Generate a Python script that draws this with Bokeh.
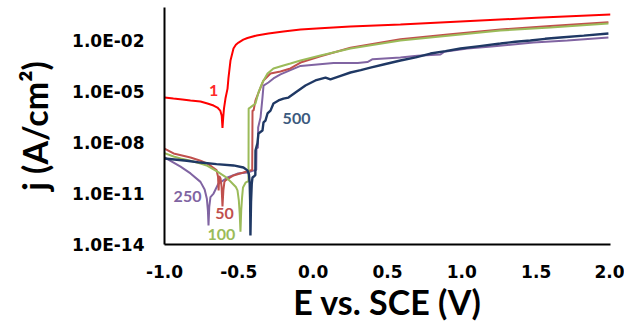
import numpy as np
from bokeh.plotting import figure
from bokeh.models import Range1d, FixedTicker, CustomJSTickFormatter, NumeralTickFormatter, Label
from bokeh.embed import file_html
from bokeh.resources import INLINE

# Potential E (V vs. SCE) and log10 of current density j (A/cm2)
e_1 = [-1.000, -0.940, -0.880, -0.825, -0.758, -0.711, -0.670, -0.644, -0.625, -0.615, -0.610, -0.605,
       -0.600, -0.590, -0.576, -0.570, -0.556, -0.536, -0.520, -0.502, -0.470, -0.442, -0.380, -0.301,
       -0.200, -0.085, 0.050, 0.250, 0.587, 0.990, 1.500, 2.000]
logj_1 = [-5.32, -5.38, -5.43, -5.49, -5.55, -5.67, -5.79, -5.91, -6.09, -6.40, -7.12, -6.50,
          -5.97, -5.38, -4.79, -4.19, -3.13, -2.42, -2.20, -2.07, -1.90, -1.80, -1.65, -1.54,
          -1.42, -1.30, -1.22, -1.12, -1.00, -0.82, -0.61, -0.41]

e_50 = [-1.000, -0.939, -0.825, -0.758, -0.711, -0.650, -0.640, -0.636, -0.632, -0.623, -0.616, -0.610,
        -0.604, -0.597, -0.590, -0.536, -0.469, -0.435, -0.410, -0.408, -0.401, -0.388, -0.354, -0.334,
        -0.287, -0.220, -0.153, -0.085, 0.049, 0.251, 0.587, 0.923, 1.260, 1.596, 1.986]
logj_50 = [-8.33, -8.62, -8.86, -9.05, -9.22, -9.60, -10.00, -10.81, -9.95, -10.10, -10.60, -11.75,
           -10.80, -10.30, -10.22, -9.92, -9.75, -9.65, -9.60, -6.09, -6.09, -5.49, -4.73, -4.31,
           -3.90, -3.78, -3.60, -3.25, -2.88, -2.38, -1.88, -1.58, -1.30, -1.10, -0.87]

e_100 = [-1.000, -0.939, -0.892, -0.825, -0.758, -0.711, -0.644, -0.590, -0.556, -0.520, -0.509, -0.500,
         -0.494, -0.489, -0.484, -0.478, -0.472, -0.455, -0.442, -0.435, -0.434, -0.422, -0.388, -0.368,
         -0.341, -0.307, -0.267, -0.200, -0.153, -0.085, 0.049, 0.251, 0.587, 0.923, 1.260, 1.596, 1.986]
logj_100 = [-8.60, -8.80, -8.92, -9.05, -9.22, -9.35, -9.70, -10.00, -10.28, -10.60, -10.80, -11.40,
            -12.20, -13.24, -12.00, -11.20, -10.63, -10.35, -10.28, -10.25, -5.97, -5.90, -5.67, -5.02,
            -4.43, -3.90, -3.60, -3.43, -3.31, -3.13, -2.84, -2.42, -1.95, -1.65, -1.36, -1.18, -0.95]

e_250 = [-1.000, -0.939, -0.892, -0.825, -0.758, -0.730, -0.715, -0.708, -0.704, -0.699, -0.691, -0.670,
         -0.637, -0.576, -0.509, -0.442, -0.408, -0.383, -0.381, -0.372, -0.370, -0.354, -0.341, -0.334,
         -0.301, -0.267, -0.220, -0.153, -0.085, 0.137, 0.300, 0.365, 0.400, 0.587, 0.700, 0.856, 0.880,
         1.038, 1.200, 1.481, 1.710, 1.986]
logj_250 = [-8.86, -9.16, -9.40, -9.80, -10.30, -10.75, -11.30, -12.00, -12.88, -11.80, -11.20, -10.99,
            -10.40, -10.04, -9.81, -9.75, -9.65, -9.60, -8.30, -8.30, -7.09, -6.50, -5.32, -4.61,
            -4.43, -4.19, -3.95, -3.70, -3.45, -3.28, -3.28, -3.22, -3.05, -2.95, -2.85, -2.78, -2.62,
            -2.42, -2.30, -2.07, -1.95, -1.77]

e_500 = [-1.000, -0.850, -0.758, -0.650, -0.536, -0.469, -0.442, -0.432, -0.427, -0.424, -0.422, -0.418,
         -0.413, -0.408, -0.395, -0.389, -0.388, -0.375, -0.368, -0.341, -0.334, -0.321, -0.307, -0.287,
         -0.267, -0.233, -0.200, -0.166, -0.119, -0.052, 0.015, 0.083, 0.116, 0.180, 0.251, 0.320, 0.385,
         0.480, 0.587, 0.690, 0.789, 0.890, 0.991, 1.120, 1.260, 1.360, 1.461, 1.560, 1.663, 1.820, 1.986]
logj_500 = [-8.92, -9.05, -9.16, -9.25, -9.33, -9.45, -9.62, -9.85, -10.40, -11.40, -13.47, -11.50,
            -10.40, -10.04, -9.95, -9.90, -8.45, -8.03, -7.44, -7.27, -6.79, -6.68, -6.26, -6.09,
            -5.67, -5.49, -5.38, -5.32, -5.02, -4.61, -4.31, -4.14, -4.25, -4.05, -3.84, -3.70, -3.55,
            -3.35, -3.13, -2.95, -2.72, -2.58, -2.42, -2.28, -2.13, -2.02, -1.95, -1.85, -1.77, -1.66, -1.54]

x_ticks = [-1.0, -0.5, 0.0, 0.5, 1.0, 1.5, 2.0]
y_tick_exponents = [-14, -11, -8, -5, -2]

series = [
    ("250", e_250, logj_250, "#8064A2", 2.0),
    ("50", e_50, logj_50, "#C0504D", 2.0),
    ("100", e_100, logj_100, "#9BBB59", 2.0),
    ("500", e_500, logj_500, "#1F3864", 2.4),
    ("1", e_1, logj_1, "#FF0000", 2.0),
]

# curve labels: (text, E, log10 j, colour)
curve_labels = [
    ("1", -0.670, -4.90, "#FF2A2A"),
    ("500", -0.112, -6.56, "#3C5A7E"),
    ("250", -0.845, -11.16, "#8064A2"),
    ("50", -0.597, -12.17, "#C0504D"),
    ("100", -0.617, -13.41, "#9BBB59"),
]

p = figure(width=624, height=327, output_backend="svg", toolbar_location=None,
           x_range=Range1d(-1.0, 2.0), y_range=Range1d(1e-14, 1.0), y_axis_type="log",
           min_border_left=164, min_border_right=14, min_border_top=7, min_border_bottom=83)
p.outline_line_color = None
p.grid.visible = False
p.background_fill_color = "white"
p.border_fill_color = "white"

for name, e, lj, col, lw in series:
    p.line(e, np.power(10.0, np.array(lj)), line_color=col, line_width=lw)

for txt, ex, ly, col in curve_labels:
    p.add_layout(Label(x=ex, y=10.0 ** ly, text=txt, text_color=col, text_font="Lato",
                       text_font_style="bold", text_font_size="16px",
                       text_align="center", text_baseline="middle"))

for ax in (p.xaxis[0], p.yaxis[0]):
    ax.axis_line_color = "black"
    ax.axis_line_width = 2
    ax.major_tick_line_color = None
    ax.minor_tick_line_color = None
    ax.major_tick_out = 0
    ax.major_tick_in = 0
    ax.major_label_text_font = "DejaVu Sans"
    ax.major_label_text_font_style = "bold"
    ax.major_label_text_font_size = "17px"
    ax.major_label_text_color = "black"
    ax.axis_label_text_font = "Lato"
    ax.axis_label_text_font_style = "bold"
    ax.axis_label_text_font_size = "34px"
    ax.axis_label_text_color = "black"

p.xaxis.ticker = FixedTicker(ticks=x_ticks)
p.xaxis.formatter = NumeralTickFormatter(format="0.0")
p.xaxis.major_label_standoff = 20
p.xaxis.axis_label = "E vs. SCE (V)"
p.xaxis.axis_label_standoff = 0

p.yaxis.ticker = FixedTicker(ticks=[10.0 ** k for k in y_tick_exponents])
p.yaxis.formatter = CustomJSTickFormatter(code="""
const e = Math.round(Math.log10(tick));
const a = Math.abs(e);
return "1.0E" + (e < 0 ? "-" : "+") + (a < 10 ? "0" : "") + a;
""")
p.yaxis.major_label_standoff = 20
p.yaxis.axis_label = "j (A/cm²)"
p.yaxis.axis_label_standoff = 14

open("out.html", "w").write(file_html(p, INLINE))
